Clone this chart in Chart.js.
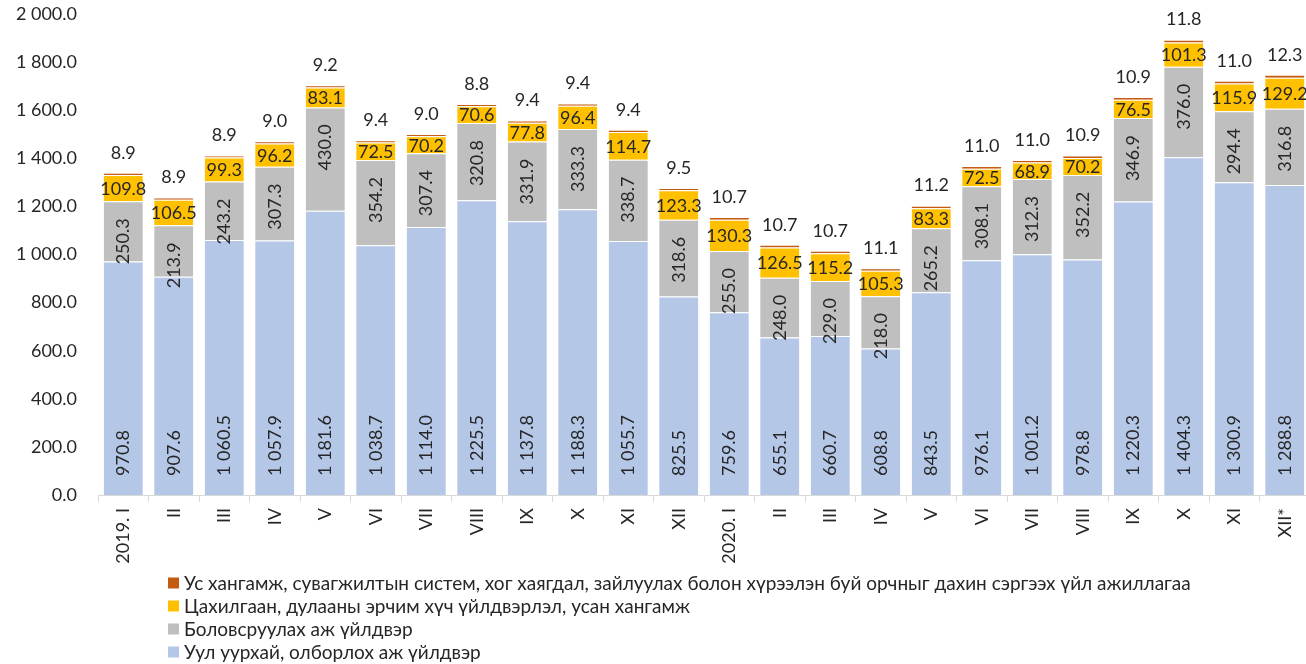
<!DOCTYPE html>
<html>
<head>
<meta charset="utf-8">
<script src="https://cdn.jsdelivr.net/npm/chart.js@4.4.1/dist/chart.umd.min.js"></script>
<style>
  html, body { margin: 0; padding: 0; background: #ffffff; overflow: hidden; }
  #wrap { width: 1310px; height: 664px; }
</style>
</head>
<body>
<div id="wrap"><canvas id="c" width="1310" height="664"></canvas></div>
<script>
const categories = ["2019. I","II","III","IV","V","VI","VII","VIII","IX","X","XI","XII",
  "2020. I","II","III","IV","V","VI","VII","VIII","IX","X","XI","XII*"];

const mining = [970.8, 907.6, 1060.5, 1057.9, 1181.6, 1038.7, 1114.0, 1225.5, 1137.8, 1188.3, 1055.7, 825.5,
  759.6, 655.1, 660.7, 608.8, 843.5, 976.1, 1001.2, 978.8, 1220.3, 1404.3, 1300.9, 1288.8];
const manufacturing = [250.3, 213.9, 243.2, 307.3, 430.0, 354.2, 307.4, 320.8, 331.9, 333.3, 338.7, 318.6,
  255.0, 248.0, 229.0, 218.0, 265.2, 308.1, 312.3, 352.2, 346.9, 376.0, 294.4, 316.8];
const electricity = [109.8, 106.5, 99.3, 96.2, 83.1, 72.5, 70.2, 70.6, 77.8, 96.4, 114.7, 123.3,
  130.3, 126.5, 115.2, 105.3, 83.3, 72.5, 68.9, 70.2, 76.5, 101.3, 115.9, 129.2];
const water = [8.9, 8.9, 8.9, 9.0, 9.2, 9.4, 9.0, 8.8, 9.4, 9.4, 9.4, 9.5,
  10.7, 10.7, 10.7, 11.1, 11.2, 11.0, 11.0, 10.9, 10.9, 11.8, 11.0, 12.3];

const seriesNames = [
  "Уул уурхай, олборлох аж үйлдвэр",
  "Боловсруулах аж үйлдвэр",
  "Цахилгаан, дулааны эрчим хүч үйлдвэрлэл, усан хангамж",
  "Ус хангамж, сувагжилтын систем, хог хаягдал, зайлуулах болон хүрээлэн буй орчныг дахин сэргээх үйл ажиллагаа"
];
const seriesColors = ["#B4C7E7", "#BFBFBF", "#FFC000", "#C55A11"];

const FONT = "Lato, 'Noto Sans', sans-serif";
const TEXT = "#262626";

function fmt(v) {
  const s = v.toFixed(1);
  const [ip, dp] = s.split(".");
  return ip.replace(/\B(?=(\d{3})+(?!\d))/g, " ") + "." + dp;
}

const labelPlugin = {
  id: "labels",
  afterDatasetsDraw(chart) {
    const ctx = chart.ctx;
    ctx.save();
    ctx.fillStyle = TEXT;
    ctx.font = "18px " + FONT;
    chart.data.datasets.forEach((ds, di) => {
      const meta = chart.getDatasetMeta(di);
      meta.data.forEach((bar, i) => {
        const v = ds.data[i];
        const t = fmt(v);
        const top = Math.min(bar.y, bar.base);
        const bottom = Math.max(bar.y, bar.base);
        if (di === 0) {
          ctx.save();
          ctx.translate(bar.x, bottom - 19);
          ctx.rotate(-Math.PI / 2);
          ctx.textAlign = "left";
          ctx.textBaseline = "middle";
          ctx.fillText(t, 0, 0);
          ctx.restore();
        } else if (di === 1) {
          ctx.save();
          ctx.translate(bar.x, top + 17);
          ctx.rotate(-Math.PI / 2);
          ctx.textAlign = "right";
          ctx.textBaseline = "middle";
          ctx.fillText(t, 0, 0);
          ctx.restore();
        } else if (di === 2) {
          ctx.textAlign = "center";
          ctx.textBaseline = "middle";
          ctx.fillText(t, bar.x, (top + bottom) / 2 + 1);
        } else {
          ctx.textAlign = "center";
          ctx.textBaseline = "middle";
          ctx.fillText(t, bar.x, top - 20);
        }
      });
    });
    ctx.restore();
  }
};

const legendPlugin = {
  id: "customLegend",
  afterDraw(chart) {
    const ctx = chart.ctx;
    ctx.save();
    ctx.font = "19px " + FONT;
    ctx.textAlign = "left";
    ctx.textBaseline = "middle";
    const n = chart.data.datasets.length;
    const rowY = [583, 606, 629, 652];
    for (let k = 0; k < n; k++) {
      const ds = chart.data.datasets[n - 1 - k];
      const y = rowY[k];
      ctx.fillStyle = ds.backgroundColor;
      ctx.fillRect(168, y - 5.5, 11, 11);
      ctx.fillStyle = TEXT;
      ctx.fillText(ds.label, 184, y + 1);
    }
    ctx.restore();
  }
};

const seriesData = [mining, manufacturing, electricity, water];
const datasets = seriesData.map((d, i) => ({
  label: seriesNames[i],
  data: d,
  backgroundColor: seriesColors[i],
  borderColor: "rgba(255,255,255,0.65)",
  borderWidth: { top: 1, left: 0, right: 0, bottom: 0 },
  borderSkipped: false,
  barPercentage: 0.775,
  categoryPercentage: 1.0
}));

new Chart(document.getElementById("c"), {
  type: "bar",
  data: { labels: categories, datasets },
  options: {
    responsive: false,
    animation: false,
    devicePixelRatio: 1,
    layout: { padding: { top: 14, bottom: 97, left: 0, right: 0 } },
    plugins: {
      legend: { display: false },
      tooltip: { enabled: false },
      title: { display: false }
    },
    scales: {
      x: {
        stacked: true,
        offset: true,
        grid: {
          display: true,
          drawOnChartArea: false,
          drawTicks: true,
          tickLength: 7,
          color: "#D9D9D9",
          offset: true
        },
        border: { display: true, color: "#D9D9D9", width: 1 },
        ticks: {
          autoSkip: false,
          minRotation: 90,
          maxRotation: 90,
          padding: 6,
          color: TEXT,
          font: { family: FONT, size: 18 }
        },
        afterFit(scale) { scale.height = 72; scale.paddingLeft = 0; scale.paddingRight = 0; }
      },
      y: {
        stacked: true,
        min: 0,
        max: 2000,
        grid: { display: false, drawTicks: false },
        border: { display: false },
        ticks: {
          stepSize: 200,
          padding: 21,
          color: TEXT,
          font: { family: FONT, size: 18 },
          callback: (v) => fmt(v)
        },
        afterFit(scale) { scale.width = 98; scale.paddingTop = 0; scale.paddingBottom = 0; }
      }
    }
  },
  plugins: [labelPlugin, legendPlugin]
});
</script>
</body>
</html>
